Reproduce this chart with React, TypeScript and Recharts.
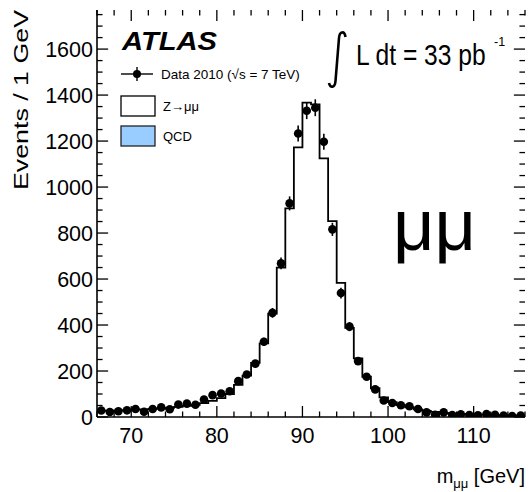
import React from "react";
import {
  ComposedChart,
  Line,
  Scatter,
  ErrorBar,
  XAxis,
  YAxis,
  ReferenceLine,
} from "recharts";

// bin low edges in GeV (1 GeV bins), plus the upper edge of the last bin
const binEdges = [
  66, 67, 68, 69, 70, 71, 72, 73, 74, 75, 76, 77, 78, 79, 80, 81, 82, 83, 84, 85,
  86, 87, 88, 89, 90, 91, 92, 93, 94, 95, 96, 97, 98, 99, 100, 101, 102, 103, 104,
  105, 106, 107, 108, 109, 110, 111, 112, 113, 114, 115, 116,
];

// Data 2010 counts per bin
const dataCounts = [
  28, 22, 25, 29, 35, 23, 35, 42, 34, 54,
  58, 53, 76, 95, 102, 112, 156, 185, 232, 327,
  453, 668, 929, 1233, 1332, 1345, 1197, 816, 539, 393,
  243, 175, 120, 72, 61, 51, 47, 35, 20, 10,
  20, 9, 12, 9, 7, 13, 10, 6, 4, 6,
];

// Z -> mumu simulation per bin
const mcCounts = [
  27, 28, 29, 30, 32, 33, 35, 37, 40, 44,
  48, 53, 60, 70, 82, 100, 140, 180, 235, 320,
  450, 650, 907, 1173, 1367, 1360, 1125, 852, 583, 388,
  255, 175, 125, 85, 65, 52, 42, 33, 27, 22,
  18, 15, 13, 11, 10, 9, 8, 7, 7, 6,
];

const xMajor = [70, 80, 90, 100, 110];
const xMinor = Array.from({ length: 26 }, (_, i) => 66 + i * 2);
const yMajor = [0, 200, 400, 600, 800, 1000, 1200, 1400, 1600];
const yMinor = Array.from({ length: 36 }, (_, i) => i * 50);

const X_DOMAIN: [number, number] = [66, 116];
const Y_DOMAIN: [number, number] = [0, 1770];

const histo = binEdges.map((x, i) => ({
  x,
  y: mcCounts[Math.min(i, mcCounts.length - 1)],
}));

const points = dataCounts.map((v, i) => ({
  x: (binEdges[i] + binEdges[i + 1]) / 2,
  y: v,
  err: Math.sqrt(v),
}));

const FONT = '"Liberation Sans", Arial, Helvetica, sans-serif';
// inward tick lengths in axis units (about 11px / 5.5px)
const X_MAJ = 1.3;
const X_MIN = 0.65;
const Y_MAJ = 48;
const Y_MIN = 24;

const BottomTick = (props: any) => {
  const { x, y, payload } = props;
  if (!xMajor.includes(payload.value)) return <g />;
  return (
    <text x={x} y={y + 26} textAnchor="middle" fontSize={21.5} fontFamily={FONT} fill="#000">
      {payload.value}
    </text>
  );
};

const LeftTick = (props: any) => {
  const { x, y, payload } = props;
  if (!yMajor.includes(payload.value)) return <g />;
  return (
    <text x={x - 4} y={y + 7.5} textAnchor="end" fontSize={21.5} fontFamily={FONT} fill="#000">
      {payload.value}
    </text>
  );
};

const Dot = (props: any) => <circle cx={props.cx} cy={props.cy} r={4.3} fill="#000" />;

const tickStyle = { stroke: "#000", strokeWidth: 1.3, ifOverflow: "visible" as const };

export default function App() {
  const xTickLines = xMinor.flatMap((v) => {
    const ly = xMajor.includes(v) ? Y_MAJ : Y_MIN;
    return [
      <ReferenceLine
        key={`b${v}`}
        xAxisId="b"
        yAxisId="l"
        segment={[{ x: v, y: Y_DOMAIN[0] }, { x: v, y: Y_DOMAIN[0] + ly }]}
        {...tickStyle}
      />,
      <ReferenceLine
        key={`t${v}`}
        xAxisId="b"
        yAxisId="l"
        segment={[{ x: v, y: Y_DOMAIN[1] }, { x: v, y: Y_DOMAIN[1] - ly }]}
        {...tickStyle}
      />,
    ];
  });

  const yTickLines = yMinor.flatMap((v) => {
    const lx = yMajor.includes(v) ? X_MAJ : X_MIN;
    return [
      <ReferenceLine
        key={`l${v}`}
        xAxisId="b"
        yAxisId="l"
        segment={[{ x: X_DOMAIN[0], y: v }, { x: X_DOMAIN[0] + lx, y: v }]}
        {...tickStyle}
      />,
      <ReferenceLine
        key={`r${v}`}
        xAxisId="b"
        yAxisId="l"
        segment={[{ x: X_DOMAIN[1], y: v }, { x: X_DOMAIN[1] - lx, y: v }]}
        {...tickStyle}
      />,
    ];
  });

  return (
    <div
      style={{
        position: "absolute",
        left: 0,
        top: 0,
        width: 530,
        height: 492,
        background: "#fff",
        fontFamily: FONT,
      }}
    >
      <ComposedChart
        width={530}
        height={492}
        data={histo}
        margin={{ top: 10, right: 5, bottom: 0, left: 0 }}
      >
        <XAxis
          xAxisId="b"
          dataKey="x"
          type="number"
          domain={X_DOMAIN}
          allowDataOverflow
          ticks={xMinor}
          interval={0}
          tickSize={0}
          tickMargin={0}
          tick={<BottomTick />}
          height={75}
          axisLine={{ stroke: "#000", strokeWidth: 1.6 }}
        />
        <XAxis
          xAxisId="t"
          orientation="top"
          type="number"
          domain={X_DOMAIN}
          allowDataOverflow
          tick={false}
          tickLine={false}
          height={0}
          axisLine={{ stroke: "#000", strokeWidth: 1.6 }}
        />
        <YAxis
          yAxisId="l"
          type="number"
          domain={Y_DOMAIN}
          allowDataOverflow
          ticks={yMinor}
          interval={0}
          tickSize={0}
          tickMargin={0}
          tick={<LeftTick />}
          width={97}
          axisLine={{ stroke: "#000", strokeWidth: 1.6 }}
        />
        <YAxis
          yAxisId="r"
          orientation="right"
          type="number"
          domain={Y_DOMAIN}
          allowDataOverflow
          tick={false}
          tickLine={false}
          width={0}
          axisLine={{ stroke: "#000", strokeWidth: 1.6 }}
        />
        {xTickLines}
        {yTickLines}
        <Line
          xAxisId="b"
          yAxisId="l"
          type="stepAfter"
          dataKey="y"
          stroke="#000"
          strokeWidth={1.8}
          dot={false}
          activeDot={false}
          isAnimationActive={false}
        />
        <Scatter
          xAxisId="b"
          yAxisId="l"
          data={points}
          dataKey="y"
          fill="#000"
          shape={<Dot />}
          isAnimationActive={false}
        >
          <ErrorBar dataKey="err" direction="y" width={0} stroke="#000" strokeWidth={1.6} />
        </Scatter>
      </ComposedChart>

      <svg
        width={530}
        height={492}
        style={{ position: "absolute", left: 0, top: 0, pointerEvents: "none" }}
        fontFamily={FONT}
      >
        <text
          transform="translate(28,100) rotate(-90)"
          textAnchor="middle"
          fontSize={21}
          textLength={180}
          lengthAdjust="spacingAndGlyphs"
          fill="#000"
        >
          Events / 1 GeV
        </text>

        <text
          x={122}
          y={50}
          fontSize={26}
          fontWeight="bold"
          fontStyle="italic"
          textLength={95}
          lengthAdjust="spacingAndGlyphs"
          fill="#000"
        >
          ATLAS
        </text>

        <line x1={121} y1={74} x2={153} y2={74} stroke="#000" strokeWidth={1.4} />
        <line x1={137} y1={67} x2={137} y2={81} stroke="#000" strokeWidth={1.4} />
        <circle cx={137} cy={74} r={4} fill="#000" />
        <text x={161} y={79} fontSize={13.5} fill="#000">
          Data 2010 (√s = 7 TeV)
        </text>

        <rect x={121} y={96} width={34} height={20} fill="#fff" stroke="#000" strokeWidth={1.3} />
        <text x={163} y={111} fontSize={13} fill="#000">
          Z→μμ
        </text>

        <rect x={121} y={126} width={34} height={20} fill="#99ccff" stroke="#222" strokeWidth={1.3} />
        <text x={163} y={141} fontSize={13} fill="#000">
          QCD
        </text>

        <path
          d="M345.5,37 C344.5,30.5 339.5,31 339,38 L335.5,81 C335,88 330,88.5 329,83"
          fill="none"
          stroke="#000"
          strokeWidth={2.6}
        />
        <text transform="translate(356,65) scale(1,1.2)" fontSize={24.6} fill="#000">
          L dt = 33 pb
        </text>
        <text x={494} y={46} fontSize={12.5} fill="#000">
          -1
        </text>

        <text x={393} y={250} fontSize={72} fill="#000">
          μμ
        </text>

        <text x={525} y={483} textAnchor="end" fontSize={20} fill="#000">
          m
          <tspan fontSize={13} dy={5}>
            μμ
          </tspan>
          <tspan dy={-5}> [GeV]</tspan>
        </text>
      </svg>
    </div>
  );
}
